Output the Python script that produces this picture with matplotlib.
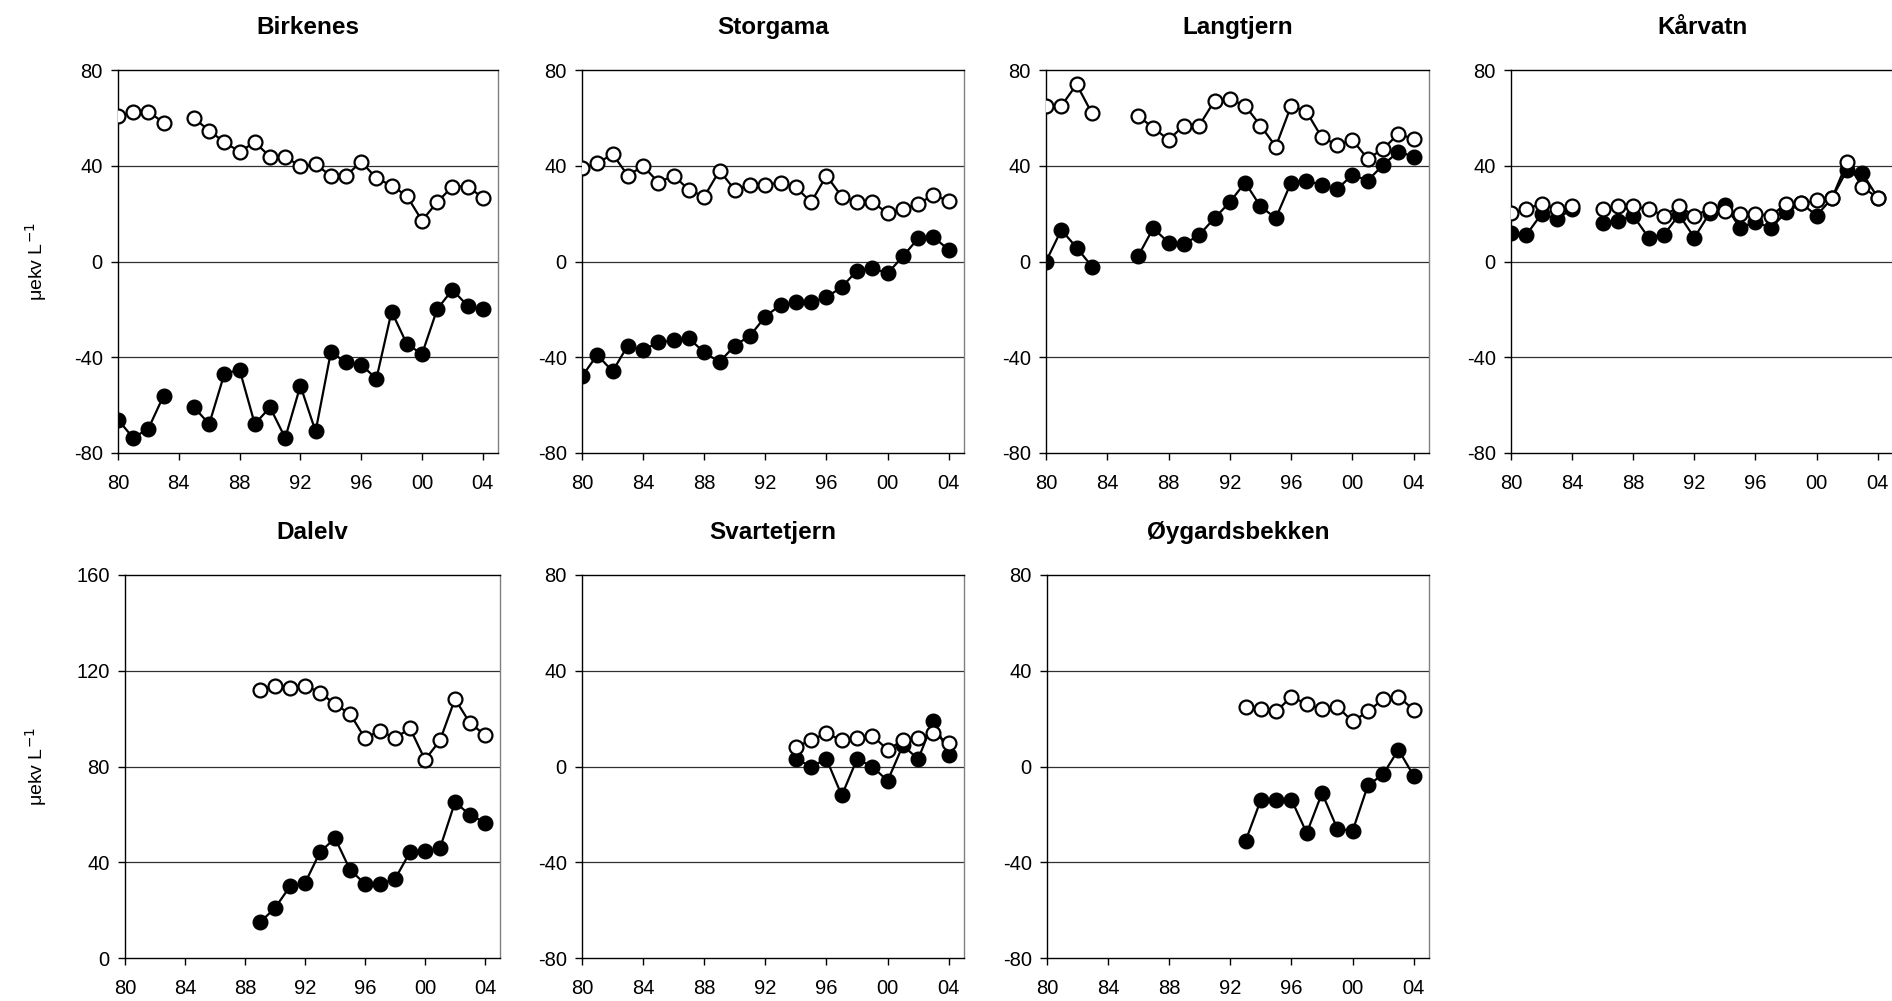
import numpy as np
from matplotlib import pyplot as plt

plt.rcParams['font.family'] = ['Liberation Sans', 'DejaVu Sans']
plt.rcParams['axes.unicode_minus'] = False

nan = np.nan
years = np.arange(1980, 2005)

# open circles / filled circles, one value per year 1980-2004 (nan = no data)
birkenes_open = [60.8, 62.6, 62.6, 58.0, nan, 59.8, 54.7, 49.8, 45.9, 49.8, 43.8, 43.8, 39.7,
                 40.6, 35.8, 35.8, 41.7, 34.8, 31.7, 27.4, 17.1, 24.8, 31.3, 31.3, 26.7]
birkenes_fill = [-66.1, -73.7, -69.8, -56.1, nan, -60.9, -67.9, -46.9, -45.2, -67.9, -60.9, -73.7, -51.9,
                 -71.0, -38.0, -42.0, -43.1, -49.0, -20.9, -34.4, -38.7, -19.9, -11.8, -18.5, -19.9]

storgama_open = [39.0, 41.0, 44.9, 35.9, 39.9, 33.0, 35.9, 29.9, 27.1, 38.0, 29.9, 32.0, 32.0,
                 33.0, 31.0, 24.8, 35.9, 27.1, 24.8, 24.8, 20.2, 22.0, 24.1, 27.8, 25.3]
storgama_fill = [-48.0, -39.0, -45.9, -35.1, -36.9, -33.8, -33.0, -32.1, -38.0, -42.0, -35.1, -31.0, -23.0,
                 -18.1, -17.1, -17.0, -14.9, -10.7, -3.8, -2.8, -4.9, 2.1, 9.7, 10.2, 4.9]

langtjern_open = [65.0, 65.0, 74.0, 61.9, nan, nan, 60.8, 55.9, 50.8, 56.8, 56.8, 67.1, 67.9,
                  65.0, 56.8, 48.0, 65.0, 62.6, 51.9, 48.7, 50.8, 42.9, 47.0, 53.3, 51.2]
langtjern_fill = [0.0, 13.2, 5.8, -2.1, nan, nan, 2.1, 13.9, 7.9, 7.2, 11.1, 18.1, 24.8,
                  33.0, 23.0, 18.1, 33.0, 33.8, 32.0, 30.2, 36.2, 33.8, 40.3, 45.9, 43.8]

karvatn_open = [20.2, 22.0, 24.1, 22.0, 23.0, nan, 22.0, 23.0, 23.0, 22.0, 19.1, 23.0, 19.1,
                22.0, 21.1, 19.9, 19.9, 19.1, 24.1, 24.3, 25.5, 26.4, 41.5, 31.0, 26.7]
karvatn_fill = [12.1, 11.1, 19.9, 17.7, 22.0, nan, 16.0, 17.0, 19.1, 10.0, 11.1, 19.5, 10.0,
                20.2, 23.7, 13.9, 16.7, 13.9, 20.6, 24.3, 19.2, 26.4, 38.3, 36.9, 26.7]

dalelv_open = [nan] * 9 + [112.0, 113.8, 113.0, 113.8, 110.9, 106.0, 102.0, 91.8, 95.0, 91.8,
                           96.0, 82.8, 90.9, 108.2, 98.1, 93.2]
dalelv_fill = [nan] * 9 + [14.9, 20.9, 29.9, 31.3, 44.2, 50.1, 36.9, 30.9, 30.9, 33.0,
                           44.2, 44.9, 45.9, 65.1, 59.8, 56.6]

svartetjern_open = [nan] * 14 + [8.1, 11.1, 13.9, 10.9, 11.8, 12.9, 7.0, 10.9, 11.8, 13.9, 9.7]
svartetjern_fill = [nan] * 14 + [3.1, 0.0, 3.1, -12.1, 3.1, 0.0, -6.0, 8.8, 3.1, 19.1, 4.9]

oygard_open = [nan] * 13 + [25.0, 23.9, 23.0, 29.2, 26.0, 23.9, 25.0, 18.8, 23.0, 28.1, 29.2, 23.7]
oygard_fill = [nan] * 13 + [-31.0, -13.9, -13.9, -13.9, -27.8, -11.1, -26.0, -26.9, -7.9, -3.2, 7.0, -3.9]

xtick_years = [1980, 1984, 1988, 1992, 1996, 2000, 2004]
xtick_labels = ['80', '84', '88', '92', '96', '00', '04']

W, H = 1892, 1001
fig = plt.figure(figsize=(W / 100, H / 100), dpi=100)

# name, open, filled, y range, (left px, right px), (top px, bottom px), title baseline px
panels = [
    ('Birkenes', birkenes_open, birkenes_fill, (-80, 80), (118, 498), (70, 453), 34),
    ('Storgama', storgama_open, storgama_fill, (-80, 80), (582, 964), (70, 453), 34),
    ('Langtjern', langtjern_open, langtjern_fill, (-80, 80), (1046, 1429), (70, 453), 34),
    ('Kårvatn', karvatn_open, karvatn_fill, (-80, 80), (1511, 1893), (70, 453), 34),
    ('Dalelv', dalelv_open, dalelv_fill, (0, 160), (125, 500), (575, 958), 539),
    ('Svartetjern', svartetjern_open, svartetjern_fill, (-80, 80), (582, 964), (575, 958), 539),
    ('Øygardsbekken', oygard_open, oygard_fill, (-80, 80), (1047, 1429), (575, 958), 539),
]

for name, y_open, y_fill, yr, (x0, x1), (y0, y1), ty in panels:
    ax = fig.add_axes([x0 / W, 1 - y1 / H, (x1 - x0) / W, (y1 - y0) / H])
    ticks = np.arange(yr[0], yr[1] + 1, 40)
    for t in ticks[1:-1]:
        ax.axhline(t, color='#303030', lw=0.9, zorder=1)
    ax.plot(years, y_fill, '-o', color='black', lw=1.6, ms=10.5,
            mfc='black', mec='black', zorder=3)
    ax.plot(years, y_open, '-o', color='black', lw=1.6, ms=10,
            mfc='white', mec='black', mew=1.6, zorder=4)
    ax.set_xlim(1980, 2005)
    ax.set_ylim(*yr)
    ax.set_yticks(ticks)
    ax.set_xticks(xtick_years, labels=xtick_labels)
    ax.tick_params(direction='out', length=5, width=1, labelsize=14.5)
    ax.tick_params(axis='x', pad=10)
    ax.tick_params(axis='y', pad=6)
    for s in ['left', 'bottom', 'top']:
        ax.spines[s].set_color('black')
        ax.spines[s].set_linewidth(1)
    ax.spines['right'].set_color('#808080')
    ax.spines['right'].set_linewidth(1)
    for lab in ax.get_xticklabels() + ax.get_yticklabels():
        lab.set_clip_on(False)
    fig.text((x0 + x1) / 2 / W, 1 - ty / H, name, ha='center', va='baseline',
             fontsize=17.5, fontweight='bold')

fig.text(36 / W, 1 - (70 + 453) / 2 / H, 'μekv L$^{-1}$', rotation=90,
         ha='center', va='center', fontsize=14)
fig.text(36 / W, 1 - (575 + 958) / 2 / H, 'μekv L$^{-1}$', rotation=90,
         ha='center', va='center', fontsize=14)

fig.savefig('out.png', dpi=100)
